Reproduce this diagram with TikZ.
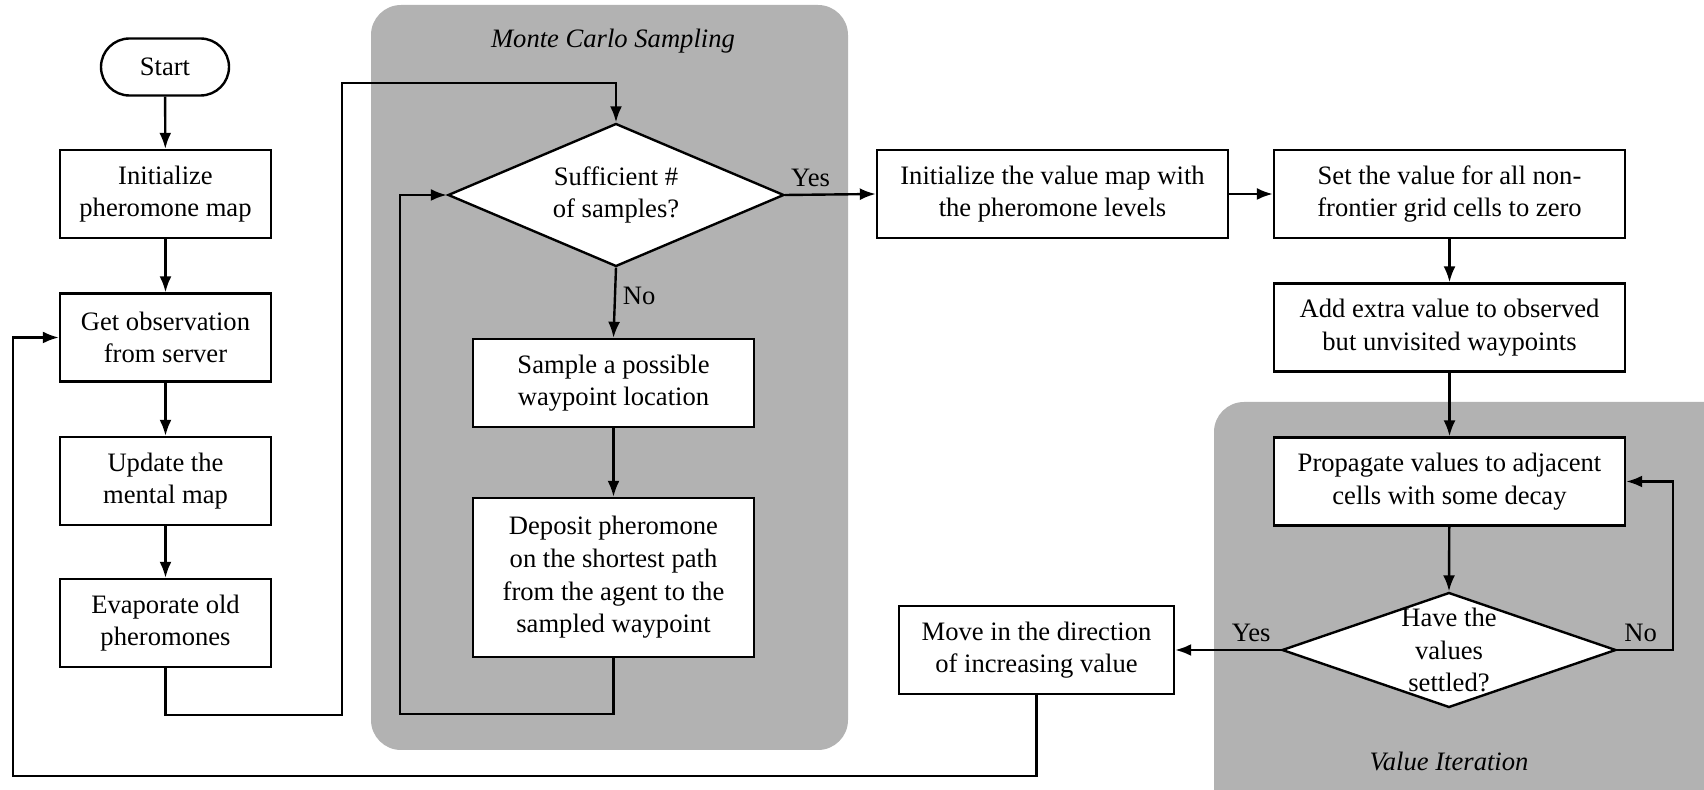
\documentclass[tikz,border=0pt]{standalone}
\usepackage{fontspec}
\setmainfont{Liberation Serif}
\usetikzlibrary{shapes.geometric,shapes.misc,arrows.meta}
\definecolor{groupgray}{RGB}{178,178,178}
\begin{document}
\begin{tikzpicture}[x=0.5pt,y=-0.5pt]
\def\lw{1.2pt}
\tikzset{base/.style={draw,line width=\lw,fill=white,align=center,inner sep=2pt},
box/.style={base,minimum height=44pt},leftbox/.style={box,minimum width=105.5pt},
mcbox/.style={box,minimum width=140.5pt},wide/.style={box,minimum width=175.5pt},
term/.style={base,rounded rectangle,minimum width=68pt,minimum height=28.5pt},
decision/.style={base,diamond,inner sep=0pt},
group/.style={fill=groupgray,rounded corners=15pt},
grouplabel/.style={font=\fontsize{13.3}{16.3}\selectfont\itshape},
every node/.style={font=\fontsize{13.3}{16.3}\selectfont},
every path/.style={>={Latex[length=8pt,width=6pt]},line width=\lw}}
\useasboundingbox (0,0) rectangle (1704,790);
\path[group] (371,5) rectangle (848,750);
\path[group] (1214,402) rectangle (1734,820);
\node[grouplabel] at (613,41) (MCL) {Monte Carlo Sampling};
\node[grouplabel] at (1449,761) (VIL) {Value Iteration};
\node[term] at (165,67) (START) {Start};
\node[leftbox] at (165.5,194) (INITP) {Initialize\\pheromone map};
\node[leftbox] at (165.5,337.5) (OBS) {Get observation\\from server};
\node[leftbox] at (165.5,481) (UPD) {Update the\\mental map};
\node[leftbox] at (165.5,623) (EVAP) {Evaporate old\\pheromones};
\node[decision,aspect=2.35,minimum width=168pt,minimum height=71.5pt] at (616,195) (SUFF) {Sufficient \#\\of samples?};
\node[mcbox] at (613.5,383) (SAMP) {Sample a possible\\waypoint location};
\node[mcbox,minimum height=79.5pt] at (613.5,577.5) (DEPO) {Deposit pheromone\\on the shortest path\\from the agent to the\\sampled waypoint};
\node[wide] at (1052.5,194) (INITV) {Initialize the value map with\\the pheromone levels};
\node[wide] at (1449.5,194) (ZERO) {Set the value for all non-\\frontier grid cells to zero};
\node[wide] at (1449.5,327.5) (EXTRA) {Add extra value to observed\\but unvisited waypoints};
\node[wide] at (1449.5,481.5) (PROP) {Propagate values to adjacent\\cells with some decay};
\node[decision,minimum width=167pt,minimum height=57.5pt,
  label={[align=center]center:Have the\\values\\settled?}] at (1449,650) (SETTLED) {};
\node[box,minimum width=137.5pt] at (1036.5,650) (MOVE) {Move in the direction\\of increasing value};
\draw[->] (START) -- (INITP);
\draw[->] (INITP) -- (OBS);
\draw[->] (OBS) -- (UPD);
\draw[->] (UPD) -- (EVAP);
\draw[->] (EVAP.south) |- (342,715) |- (616,83) -- (SUFF.north);
\draw[->] (SUFF.south) -- node[right,pos=0.4] {No} (SAMP.north);
\draw[->] (SAMP) -- (DEPO);
\draw[->] (DEPO.south) |- (400,714) |- (SUFF.west);
\draw[->] (SUFF.east) -- node[above,pos=0.28] {Yes} (INITV.west);
\draw[->] (INITV) -- (ZERO);
\draw[->] (ZERO) -- (EXTRA);
\draw[->] (EXTRA) -- (PROP);
\draw[->] (PROP) -- (SETTLED.north);
\draw[->] (SETTLED.east) -- node[above,pos=0.42] {No} (1673,650) |- (PROP.east);
\draw[->] (SETTLED.west) -- node[above,pos=0.28] {Yes} (MOVE.east);
\draw[->] (MOVE.south) |- (13,776) |- (OBS.west);
\end{tikzpicture}
\end{document}
